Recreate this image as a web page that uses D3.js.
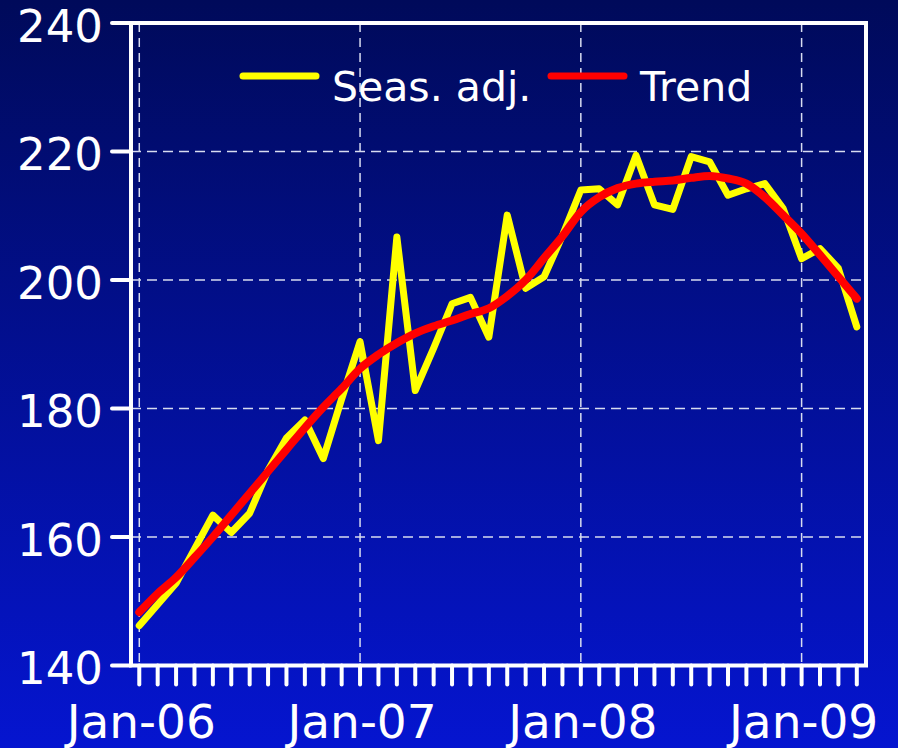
<!DOCTYPE html>
<html>
<head>
<meta charset="utf-8">
<script src="https://cdn.jsdelivr.net/npm/d3@7/dist/d3.min.js"></script>
<style>
  body { margin: 0; background: #000a5a; }
  text { font-family: "DejaVu Sans", Verdana, sans-serif; fill: #fff; }
</style>
</head>
<body>
<div id="chart"></div>
<script>
// monthly index 0 = Jan-06 ... 39 = Apr-09
var seasAdj = [146.2, 149.5, 152.8, 158.1, 163.4, 160.7, 163.7, 170.4, 175.4, 178.2,
               172.2, 181.5, 190.4, 175.0, 206.7, 182.8, 189.4, 196.3, 197.3, 191.1,
               210.1, 198.7, 200.5, 206.9, 214.0, 214.2, 211.7, 219.4, 211.7, 211.0,
               219.2, 218.4, 213.2, 214.2, 215.0, 211.1, 203.3, 204.9, 201.8, 192.7];

var trend = [148.3, 151.2, 153.7, 156.8, 160.0, 163.4, 166.8, 170.2, 173.6, 177.0,
             180.2, 183.1, 186.2, 188.4, 190.2, 191.7, 192.8, 193.7, 194.7, 195.6,
             197.5, 200.0, 203.4, 206.8, 210.6, 212.9, 214.3, 215.0, 215.3, 215.5,
             215.9, 216.2, 215.8, 215.0, 212.9, 210.1, 207.2, 203.9, 200.5, 197.1];

var yTicks = [140, 160, 180, 200, 220, 240];
var janIndex = [0, 12, 24, 36];
var janLabels = ["Jan-06", "Jan-07", "Jan-08", "Jan-09"];

var width = 898, height = 748;
var margin = {left: 131, right: 32, top: 23, bottom: 82.5};

var svg = d3.select("#chart").append("svg")
  .attr("width", width)
  .attr("height", height);

// background gradient
var grad = svg.append("defs").append("linearGradient")
  .attr("id", "bg")
  .attr("x1", 0).attr("y1", 0).attr("x2", 0).attr("y2", 1);
grad.append("stop").attr("offset", 0).attr("stop-color", "#000a5a");
grad.append("stop").attr("offset", 1).attr("stop-color", "#0515d0");

svg.append("rect")
  .attr("width", width)
  .attr("height", height)
  .attr("fill", "url(#bg)");

//////////
// AXES //
//////////

var x = d3.scaleLinear()
  .domain([-0.45, 39.5])
  .range([margin.left, width - margin.right]);

var y = d3.scaleLinear()
  .domain([140, 240])
  .range([height - margin.bottom, margin.top]);

// grid
svg.append("g")
  .selectAll("line")
  .data(yTicks.slice(1, -1))
  .enter().append("line")
  .attr("x1", x.range()[0]).attr("x2", x.range()[1])
  .attr("y1", (d) => y(d)).attr("y2", (d) => y(d))
  .attr("stroke", "#d8dcf0")
  .attr("stroke-width", 1.5)
  .attr("stroke-dasharray", "10,6");

svg.append("g")
  .selectAll("line")
  .data(janIndex)
  .enter().append("line")
  .attr("x1", (d) => x(d)).attr("x2", (d) => x(d))
  .attr("y1", y(240)).attr("y2", y(140))
  .attr("stroke", "#d8dcf0")
  .attr("stroke-width", 1.5)
  .attr("stroke-dasharray", "9,6");

// y ticks + labels
var yAxis = svg.append("g");
yAxis.selectAll("line")
  .data(yTicks)
  .enter().append("line")
  .attr("x1", margin.left - 19).attr("x2", margin.left)
  .attr("y1", (d) => y(d)).attr("y2", (d) => y(d))
  .attr("stroke", "#fff")
  .attr("stroke-width", 4)
  .attr("stroke-linecap", "round");
yAxis.selectAll("text")
  .data(yTicks)
  .enter().append("text")
  .attr("x", 103)
  .attr("y", (d) => y(d) + 18.5)
  .attr("text-anchor", "end")
  .attr("font-size", 45)
  .text((d) => d);

// x ticks (every month) + labels
var xAxis = svg.append("g");
xAxis.selectAll("line")
  .data(d3.range(seasAdj.length))
  .enter().append("line")
  .attr("x1", (d) => x(d)).attr("x2", (d) => x(d))
  .attr("y1", y(140)).attr("y2", y(140) + 19)
  .attr("stroke", "#fff")
  .attr("stroke-width", 4)
  .attr("stroke-linecap", "round");
xAxis.selectAll("text")
  .data(janIndex)
  .enter().append("text")
  .attr("x", (d) => x(d) + 2)
  .attr("y", 738)
  .attr("text-anchor", "middle")
  .attr("font-size", 47)
  .text((d, i) => janLabels[i]);

// frame
svg.append("rect")
  .attr("x", x.range()[0])
  .attr("y", y(240))
  .attr("width", x.range()[1] - x.range()[0])
  .attr("height", y(140) - y(240))
  .attr("fill", "none")
  .attr("stroke", "#fff")
  .attr("stroke-width", 4);

///////////
// LINES //
///////////

var line = d3.line()
  .x((d, i) => x(i))
  .y((d) => y(d));

svg.append("path")
  .datum(seasAdj)
  .attr("d", line)
  .attr("fill", "none")
  .attr("stroke", "#ffff00")
  .attr("stroke-width", 7)
  .attr("stroke-linejoin", "round")
  .attr("stroke-linecap", "round");

svg.append("path")
  .datum(trend)
  .attr("d", d3.line().curve(d3.curveMonotoneX).x((d, i) => x(i)).y((d) => y(d)))
  .attr("fill", "none")
  .attr("stroke", "#ff0000")
  .attr("stroke-width", 8)
  .attr("stroke-linejoin", "round")
  .attr("stroke-linecap", "round");

////////////
// LEGEND //
////////////

var legendItems = [
  {name: "Seas. adj.", color: "#ffff00", x: 243},
  {name: "Trend", color: "#ff0000", x: 551}
];

var legend = svg.append("g");
var item = legend.selectAll("g")
  .data(legendItems)
  .enter().append("g")
  .attr("transform", (d) => "translate(" + d.x + ",76)");
item.append("line")
  .attr("x1", 0).attr("x2", 73)
  .attr("stroke", (d) => d.color)
  .attr("stroke-width", 7)
  .attr("stroke-linecap", "round");
item.append("text")
  .attr("x", 89)
  .attr("y", 25)
  .attr("font-size", 41)
  .text((d) => d.name);
</script>
</body>
</html>
